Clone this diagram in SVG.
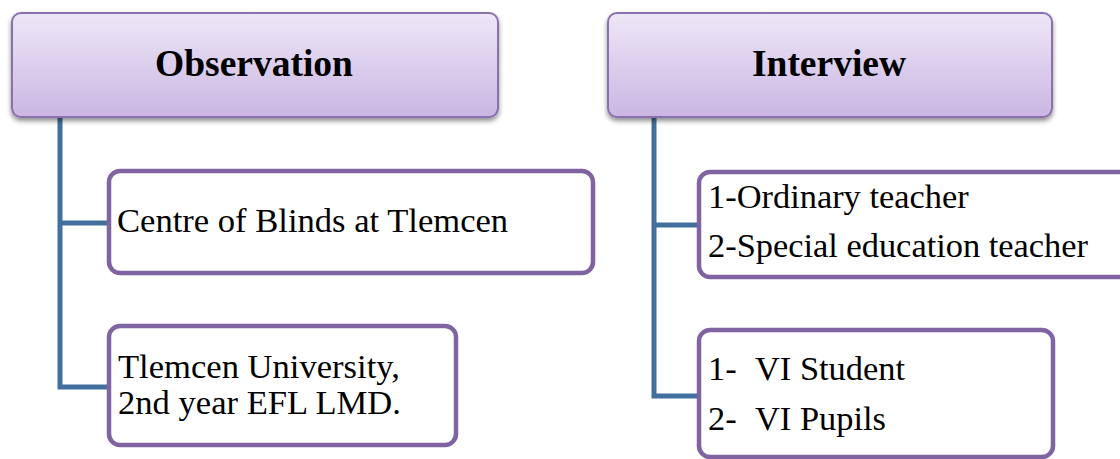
<svg xmlns="http://www.w3.org/2000/svg" width="1120" height="459" viewBox="0 0 1120 459">
<style>
.hdr{fill:url(#g);stroke:#8B70AE;stroke-width:2}
.box{fill:#fff;stroke:#8064A2;stroke-width:4.5}
.conn{fill:none;stroke:#41709F;stroke-width:5;stroke-linejoin:miter}
.ht{font-family:"Liberation Serif",serif;font-weight:bold;font-size:37.5px;fill:#000;text-anchor:middle}
.t{font-family:"Liberation Serif",serif;font-size:34.6px;fill:#000}
.t2{font-family:"Liberation Serif",serif;font-size:34.4px;fill:#000}
</style>
<defs>
<linearGradient id="g" x1="0" y1="0" x2="0" y2="1">
<stop offset="0" stop-color="#EDE7F7"/>
<stop offset="1" stop-color="#CBB6E3"/>
</linearGradient>
<filter id="sh" x="-5%" y="-10%" width="110%" height="130%">
<feGaussianBlur in="SourceAlpha" stdDeviation="2.5"/>
<feOffset dy="3" result="b"/>
<feComponentTransfer><feFuncA type="linear" slope="0.45"/></feComponentTransfer>
<feMerge><feMergeNode/><feMergeNode in="SourceGraphic"/></feMerge>
</filter>
</defs>
<g id="connectors">
<path class="conn" d="M60,117 V387 H109 M60,223 H109"/>
<path class="conn" d="M654,117 V396 H698 M654,225 H698"/>
</g>
<g id="observation">
<rect class="hdr" x="12" y="13" width="486" height="104" rx="9" filter="url(#sh)"/>
<text class="ht" x="254" y="76">Observation</text>
</g>
<g id="interview">
<rect class="hdr" x="608" y="13" width="444" height="104" rx="9" filter="url(#sh)"/>
<text class="ht" x="829" y="76">Interview</text>
</g>
<g id="centre">
<rect class="box" x="109" y="171" width="484" height="102" rx="11"/>
<text class="t" x="117" y="232">Centre of Blinds at Tlemcen</text>
</g>
<g id="university">
<rect class="box" x="109" y="326" width="347" height="119" rx="11"/>
<text class="t" x="118" y="378">Tlemcen University,</text>
<text class="t" x="118" y="414">2nd year EFL LMD.</text>
</g>
<g id="teachers">
<rect class="box" x="699" y="172" width="440" height="105" rx="11"/>
<text class="t2" x="708" y="208">1-Ordinary teacher</text>
<text class="t2" x="708" y="257">2-Special education teacher</text>
</g>
<g id="students">
<rect class="box" x="699" y="330" width="354" height="127" rx="11"/>
<text class="t2" x="708" y="380">1-</text>
<text class="t2" x="755" y="380">VI Student</text>
<text class="t2" x="708" y="430">2-</text>
<text class="t2" x="755" y="430">VI Pupils</text>
</g>
</svg>
